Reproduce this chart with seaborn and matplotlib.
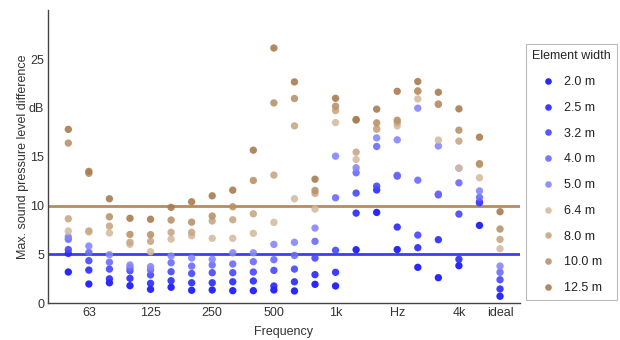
import matplotlib
matplotlib.use("Agg")
import matplotlib.pyplot as plt
import seaborn as sns
import pandas as pd

freqs = ["50", "63", "80", "100", "125", "160", "200", "250", "315", "400", "500",
         "630", "800", "1k", "1.25k", "1.6k", "2k", "2.5k", "3.15k", "4k", "5k", "ideal"]
tick_pos = [1, 4, 7, 10, 13, 16, 19, 21]
tick_labels = ["63", "125", "250", "500", "1k", "Hz", "4k", "ideal"]

widths = ["2.0 m", "2.5 m", "3.2 m", "4.0 m", "5.0 m", "6.4 m", "8.0 m", "10.0 m", "12.5 m"]

w_12_5 = [17.8, 13.5, 10.7, 8.7, 8.6, 9.82, 10.39, 11.0, 11.58, 15.67, 26.13, 22.66, 12.7, 20.98, 18.81, 19.87, 21.7, 22.7, 21.6, 19.9, 17.0, 9.37]
w_10_0 = [16.4, 13.3, 8.85, 7.05, 7.02, 8.52, 8.3, 8.93, 9.88, 12.57, 20.51, 20.96, 11.55, 20.17, 18.75, 18.47, 18.74, 21.74, 20.4, 17.72, 14.3, 7.6]
w_8_0 = [8.65, 7.4, 7.9, 6.24, 6.34, 7.26, 7.26, 8.42, 8.55, 9.16, 13.12, 18.16, 11.25, 19.73, 15.47, 17.86, 18.5, 21.7, 20.35, 16.6, 14.2, 6.54]
w_6_4 = [7.4, 7.3, 7.2, 6.03, 5.28, 6.57, 6.91, 6.65, 6.65, 7.16, 8.28, 10.7, 9.64, 18.5, 14.72, 17.8, 18.16, 20.92, 16.7, 13.83, 12.85, 5.58]
w_5_0 = [6.8, 5.86, 4.97, 3.92, 3.75, 4.84, 4.63, 4.5, 5.17, 5.17, 6.03, 6.24, 7.7, 15.06, 13.87, 16.93, 16.73, 19.97, 16.1, 13.83, 11.5, 3.81]
w_4_0 = [6.55, 5.2, 4.2, 3.64, 3.4, 4.15, 3.8, 3.92, 4.02, 4.26, 4.46, 4.9, 6.34, 10.8, 13.36, 16.05, 13.1, 12.6, 11.18, 12.33, 10.84, 3.17]
w_3_2 = [5.5, 4.36, 3.5, 3.33, 2.9, 3.23, 3.05, 3.13, 3.13, 3.2, 3.37, 3.5, 4.63, 5.42, 11.28, 11.99, 13.02, 6.98, 11.1, 9.13, 10.36, 2.41]
w_2_5 = [5.1, 3.4, 2.5, 2.55, 2.04, 2.31, 2.1, 2.1, 2.2, 2.28, 1.77, 2.2, 2.93, 3.17, 9.23, 11.6, 7.8, 5.69, 6.51, 4.5, 10.3, 1.46]
w_2_0 = [3.2, 1.97, 2.1, 1.8, 1.43, 1.64, 1.33, 1.36, 1.29, 1.29, 1.36, 1.26, 1.94, 1.77, 5.48, 9.3, 5.5, 3.68, 2.62, 3.85, 7.97, 0.72]

series = [w_2_0, w_2_5, w_3_2, w_4_0, w_5_0, w_6_4, w_8_0, w_10_0, w_12_5]
palette = ["#1010ff", "#2828ff", "#4646ff", "#6a6aff", "#8686ff",
           "#d4bca0", "#c8a886", "#b8926a", "#a87c50"]

rows = []
for w, vals in zip(widths, series):
    for f, v in zip(freqs, vals):
        rows.append({"Frequency": f, "value": v, "Element width": w})
df = pd.DataFrame(rows)

sns.set_style("white")
plt.rcParams["font.family"] = ["Liberation Sans", "DejaVu Sans"]

fig = plt.figure(figsize=(6.2, 3.4), dpi=100)
ax = fig.add_axes([0.078, 0.108, 0.76, 0.862])

ax.axhline(10, color="#b48c64", lw=2, zorder=1)
ax.axhline(5, color="#3c3cff", lw=2, zorder=1)

sns.scatterplot(data=df, x="Frequency", y="value", hue="Element width",
                hue_order=widths, palette=palette, s=28, linewidth=0,
                alpha=0.9, ax=ax, zorder=3)

ax.set_xlim(-0.97, 21.95)
ax.set_ylim(0, 30)
ax.set_xticks(tick_pos)
ax.set_xticklabels(tick_labels)
ax.set_yticks([0, 5, 10, 15, 20, 25])
ax.set_yticklabels(["0", "5", "10", "15", "dB", "25"])
ax.tick_params(direction="in", length=4, width=1, colors="#444444",
               labelsize=9, labelcolor="#333333", pad=3)
for side in ["top", "right"]:
    ax.spines[side].set_visible(False)
for side in ["left", "bottom"]:
    ax.spines[side].set_color("#444444")
    ax.spines[side].set_linewidth(1)
ax.set_xlabel("Frequency", fontsize=9, color="#333333", labelpad=5)
ax.set_ylabel("Max. sound pressure level difference", fontsize=9, color="#333333", labelpad=0)

handles, labels = ax.get_legend_handles_labels()
leg = ax.legend(handles, labels, title="Element width", loc="upper left",
                bbox_to_anchor=(0.8484, 0.8700), bbox_transform=fig.transFigure,
                borderaxespad=0, frameon=True, fontsize=9, title_fontsize=9,
                labelspacing=1.1, handletextpad=0.05, borderpad=0.5,
                handlelength=2.5, markerscale=0.9, fancybox=False,
                alignment="left")
leg.get_frame().set_edgecolor("#aaaaaa")
leg.get_frame().set_linewidth(0.8)
for t in leg.get_texts():
    t.set_color("#222222")

fig.savefig("out.png", dpi=100)
